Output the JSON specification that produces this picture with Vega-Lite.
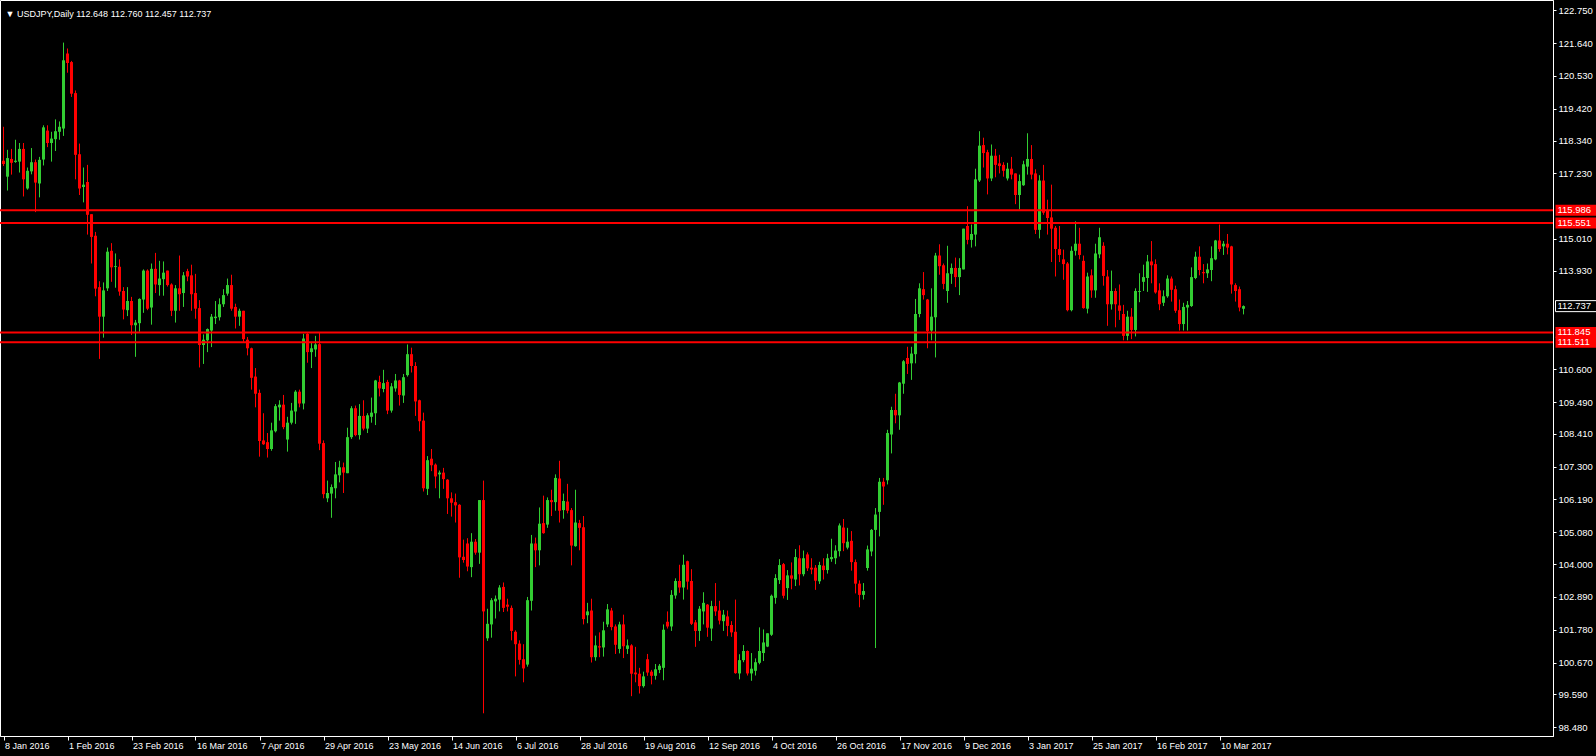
{
"$schema":"https://vega.github.io/schema/vega-lite/v6.json",
"width":1553,"height":736,
"autosize":{"type":"none"},
"padding":{"left":0,"top":0,"right":43,"bottom":20},
"background":"#000000",
"config":{"view":{"stroke":"#FFFFFF","strokeWidth":1},"font":"Liberation Sans","axis":{"labelOverlap":false}},
"resolve":{"axis":{"x":"independent","y":"independent"}},
"datasets":{
"ohlc":[
{"i":0,"o":117.66,"h":118.81,"l":117.48,"c":117.55},
{"i":1,"o":117.12,"h":118.03,"l":116.65,"c":117.75},
{"i":2,"o":117.72,"h":118.06,"l":117.19,"c":117.59},
{"i":3,"o":117.62,"h":118.37,"l":117.59,"c":117.66},
{"i":4,"o":117.63,"h":118.26,"l":117.26,"c":118.06},
{"i":5,"o":118.06,"h":118.26,"l":116.45,"c":117.03},
{"i":6,"o":116.72,"h":117.43,"l":116.68,"c":117.32},
{"i":7,"o":117.30,"h":118.09,"l":117.20,"c":117.61},
{"i":8,"o":117.61,"h":117.70,"l":115.92,"c":116.92},
{"i":9,"o":116.89,"h":117.79,"l":116.42,"c":117.69},
{"i":10,"o":117.70,"h":118.86,"l":117.50,"c":118.79},
{"i":11,"o":118.68,"h":118.86,"l":118.12,"c":118.26},
{"i":12,"o":118.26,"h":118.64,"l":117.63,"c":118.41},
{"i":13,"o":118.39,"h":119.06,"l":117.99,"c":118.66},
{"i":14,"o":118.64,"h":118.99,"l":118.37,"c":118.81},
{"i":15,"o":118.75,"h":121.66,"l":118.50,"c":121.06},
{"i":16,"o":121.29,"h":121.46,"l":120.64,"c":120.97},
{"i":17,"o":121.00,"h":121.04,"l":119.82,"c":119.93},
{"i":18,"o":119.95,"h":120.04,"l":117.03,"c":117.86},
{"i":19,"o":117.88,"h":118.24,"l":116.50,"c":116.72},
{"i":20,"o":116.77,"h":117.43,"l":116.25,"c":116.85},
{"i":21,"o":116.94,"h":117.52,"l":115.16,"c":115.83},
{"i":22,"o":115.85,"h":115.85,"l":114.18,"c":115.08},
{"i":23,"o":115.12,"h":115.25,"l":113.07,"c":113.33},
{"i":24,"o":113.38,"h":113.58,"l":110.95,"c":112.38},
{"i":25,"o":112.38,"h":113.54,"l":111.67,"c":113.27},
{"i":26,"o":113.34,"h":114.72,"l":113.25,"c":114.58},
{"i":27,"o":114.61,"h":114.87,"l":113.56,"c":114.05},
{"i":28,"o":114.06,"h":114.52,"l":113.36,"c":114.09},
{"i":29,"o":114.07,"h":114.32,"l":113.09,"c":113.23},
{"i":30,"o":113.25,"h":113.38,"l":112.29,"c":112.62},
{"i":31,"o":112.60,"h":113.38,"l":112.40,"c":112.91},
{"i":32,"o":112.91,"h":113.05,"l":111.76,"c":112.09},
{"i":33,"o":112.09,"h":112.27,"l":111.02,"c":112.18},
{"i":34,"o":112.16,"h":113.00,"l":111.87,"c":112.98},
{"i":35,"o":112.96,"h":113.98,"l":112.51,"c":113.94},
{"i":36,"o":113.94,"h":113.98,"l":112.60,"c":112.65},
{"i":37,"o":112.69,"h":114.18,"l":112.11,"c":114.00},
{"i":38,"o":114.00,"h":114.54,"l":113.18,"c":113.47},
{"i":39,"o":113.45,"h":114.27,"l":113.09,"c":113.67},
{"i":40,"o":113.65,"h":114.25,"l":113.09,"c":113.87},
{"i":41,"o":113.94,"h":113.94,"l":113.40,"c":113.45},
{"i":42,"o":113.47,"h":113.51,"l":112.40,"c":112.58},
{"i":43,"o":112.58,"h":113.45,"l":112.18,"c":113.34},
{"i":44,"o":113.34,"h":114.45,"l":112.58,"c":113.14},
{"i":45,"o":113.18,"h":113.89,"l":112.71,"c":113.78},
{"i":46,"o":113.92,"h":114.00,"l":113.58,"c":113.74},
{"i":47,"o":113.78,"h":114.14,"l":112.58,"c":113.14},
{"i":48,"o":113.18,"h":113.83,"l":112.31,"c":112.65},
{"i":49,"o":112.67,"h":112.94,"l":110.66,"c":111.42},
{"i":50,"o":111.42,"h":111.78,"l":110.78,"c":111.60},
{"i":51,"o":111.58,"h":111.98,"l":111.18,"c":111.96},
{"i":52,"o":111.91,"h":112.47,"l":111.35,"c":112.38},
{"i":53,"o":112.33,"h":112.91,"l":112.13,"c":112.38},
{"i":54,"o":112.36,"h":113.00,"l":112.25,"c":112.80},
{"i":55,"o":112.80,"h":113.31,"l":112.71,"c":113.11},
{"i":56,"o":113.16,"h":113.67,"l":113.09,"c":113.45},
{"i":57,"o":113.45,"h":113.80,"l":112.58,"c":112.65},
{"i":58,"o":112.71,"h":112.82,"l":111.98,"c":112.38},
{"i":59,"o":112.38,"h":112.65,"l":112.07,"c":112.58},
{"i":60,"o":112.58,"h":112.58,"l":111.53,"c":111.62},
{"i":61,"o":111.60,"h":111.69,"l":111.07,"c":111.31},
{"i":62,"o":111.31,"h":111.33,"l":109.91,"c":110.31},
{"i":63,"o":110.35,"h":110.64,"l":109.31,"c":109.77},
{"i":64,"o":109.80,"h":109.91,"l":107.64,"c":108.17},
{"i":65,"o":108.19,"h":109.11,"l":108.04,"c":108.06},
{"i":66,"o":108.13,"h":108.44,"l":107.61,"c":107.90},
{"i":67,"o":107.90,"h":108.79,"l":107.84,"c":108.53},
{"i":68,"o":108.50,"h":109.42,"l":108.46,"c":109.35},
{"i":69,"o":109.31,"h":109.55,"l":108.86,"c":109.40},
{"i":70,"o":109.40,"h":109.73,"l":108.57,"c":108.64},
{"i":71,"o":108.22,"h":108.99,"l":107.81,"c":108.79},
{"i":72,"o":108.79,"h":109.46,"l":108.73,"c":109.20},
{"i":73,"o":109.17,"h":109.89,"l":108.75,"c":109.84},
{"i":74,"o":109.84,"h":109.91,"l":109.31,"c":109.44},
{"i":75,"o":109.44,"h":111.80,"l":109.24,"c":111.64},
{"i":76,"o":111.80,"h":111.82,"l":110.82,"c":111.18},
{"i":77,"o":111.18,"h":111.53,"l":110.64,"c":111.31},
{"i":78,"o":111.27,"h":111.73,"l":111.02,"c":111.44},
{"i":79,"o":111.45,"h":111.84,"l":107.86,"c":108.08},
{"i":80,"o":108.10,"h":108.19,"l":106.23,"c":106.37},
{"i":81,"o":106.23,"h":106.83,"l":106.10,"c":106.41},
{"i":82,"o":106.39,"h":106.70,"l":105.57,"c":106.61},
{"i":83,"o":106.57,"h":107.46,"l":106.23,"c":107.04},
{"i":84,"o":107.01,"h":107.50,"l":106.77,"c":107.28},
{"i":85,"o":107.28,"h":107.44,"l":106.41,"c":107.10},
{"i":86,"o":107.08,"h":108.62,"l":107.08,"c":108.30},
{"i":87,"o":108.30,"h":109.35,"l":108.24,"c":109.28},
{"i":88,"o":109.28,"h":109.37,"l":108.33,"c":108.37},
{"i":89,"o":108.37,"h":109.42,"l":108.22,"c":109.02},
{"i":90,"o":109.02,"h":109.55,"l":108.53,"c":108.59},
{"i":91,"o":108.59,"h":109.11,"l":108.44,"c":109.04},
{"i":92,"o":108.99,"h":109.64,"l":108.79,"c":109.13},
{"i":93,"o":109.11,"h":110.24,"l":108.71,"c":110.22},
{"i":94,"o":110.17,"h":110.38,"l":109.68,"c":109.95},
{"i":95,"o":109.93,"h":110.58,"l":109.82,"c":110.13},
{"i":96,"o":110.17,"h":110.24,"l":109.08,"c":109.20},
{"i":97,"o":109.20,"h":110.13,"l":109.13,"c":110.02},
{"i":98,"o":109.95,"h":110.44,"l":109.84,"c":110.22},
{"i":99,"o":110.22,"h":110.24,"l":109.37,"c":109.73},
{"i":100,"o":109.71,"h":110.44,"l":109.46,"c":110.33},
{"i":101,"o":110.40,"h":111.44,"l":110.35,"c":111.11},
{"i":102,"o":111.11,"h":111.33,"l":110.49,"c":110.71},
{"i":103,"o":110.71,"h":110.84,"l":109.02,"c":109.51},
{"i":104,"o":109.55,"h":109.57,"l":108.50,"c":108.84},
{"i":105,"o":108.86,"h":109.13,"l":106.46,"c":106.57},
{"i":106,"o":106.55,"h":107.66,"l":106.34,"c":107.52},
{"i":107,"o":107.57,"h":107.90,"l":107.15,"c":107.35},
{"i":108,"o":107.37,"h":107.41,"l":106.57,"c":106.97},
{"i":109,"o":107.04,"h":107.17,"l":106.23,"c":107.10},
{"i":110,"o":107.10,"h":107.26,"l":106.55,"c":106.88},
{"i":111,"o":106.86,"h":106.88,"l":105.70,"c":106.23},
{"i":112,"o":106.23,"h":106.43,"l":105.61,"c":106.08},
{"i":113,"o":106.10,"h":106.39,"l":105.41,"c":105.99},
{"i":114,"o":106.01,"h":106.03,"l":103.54,"c":104.23},
{"i":115,"o":104.25,"h":104.83,"l":104.05,"c":104.14},
{"i":116,"o":104.70,"h":104.88,"l":103.76,"c":103.92},
{"i":117,"o":103.90,"h":105.05,"l":103.56,"c":104.76},
{"i":118,"o":104.76,"h":104.85,"l":104.32,"c":104.39},
{"i":119,"o":104.39,"h":106.17,"l":104.01,"c":106.17},
{"i":120,"o":106.17,"h":106.83,"l":98.95,"c":102.40},
{"i":121,"o":101.49,"h":102.49,"l":101.40,"c":101.98},
{"i":122,"o":101.96,"h":102.85,"l":101.51,"c":102.78},
{"i":123,"o":102.74,"h":102.94,"l":102.16,"c":102.83},
{"i":124,"o":102.80,"h":103.29,"l":102.40,"c":103.21},
{"i":125,"o":103.23,"h":103.38,"l":102.38,"c":102.52},
{"i":126,"o":102.63,"h":102.83,"l":102.40,"c":102.56},
{"i":127,"o":102.52,"h":102.60,"l":101.42,"c":101.74},
{"i":128,"o":101.71,"h":101.76,"l":100.20,"c":101.29},
{"i":129,"o":101.31,"h":101.42,"l":100.60,"c":100.76},
{"i":130,"o":100.78,"h":101.29,"l":100.00,"c":100.47},
{"i":131,"o":100.60,"h":102.89,"l":100.53,"c":102.78},
{"i":132,"o":102.76,"h":104.99,"l":102.43,"c":104.70},
{"i":133,"o":104.70,"h":104.90,"l":103.90,"c":104.47},
{"i":134,"o":104.47,"h":105.92,"l":103.96,"c":105.37},
{"i":135,"o":105.39,"h":106.32,"l":105.03,"c":105.05},
{"i":136,"o":105.34,"h":106.26,"l":105.23,"c":106.17},
{"i":137,"o":106.17,"h":106.52,"l":105.63,"c":106.10},
{"i":138,"o":106.10,"h":107.04,"l":105.81,"c":106.92},
{"i":139,"o":106.90,"h":107.50,"l":105.41,"c":105.81},
{"i":140,"o":105.83,"h":106.39,"l":105.54,"c":106.14},
{"i":141,"o":106.12,"h":106.72,"l":105.72,"c":105.81},
{"i":142,"o":105.83,"h":105.90,"l":103.96,"c":104.63},
{"i":143,"o":104.61,"h":106.52,"l":104.59,"c":105.41},
{"i":144,"o":105.39,"h":105.50,"l":104.47,"c":105.23},
{"i":145,"o":105.25,"h":105.63,"l":101.96,"c":102.14},
{"i":146,"o":102.27,"h":102.69,"l":102.00,"c":102.40},
{"i":147,"o":102.43,"h":102.83,"l":100.67,"c":100.85},
{"i":148,"o":100.85,"h":101.58,"l":100.73,"c":101.25},
{"i":149,"o":101.22,"h":101.69,"l":100.85,"c":101.18},
{"i":150,"o":101.18,"h":102.05,"l":100.87,"c":101.76},
{"i":151,"o":101.96,"h":102.65,"l":101.87,"c":102.47},
{"i":152,"o":102.43,"h":102.52,"l":101.76,"c":101.87},
{"i":153,"o":101.89,"h":101.96,"l":100.96,"c":101.27},
{"i":154,"o":101.13,"h":102.05,"l":100.98,"c":101.96},
{"i":155,"o":101.96,"h":102.29,"l":100.82,"c":101.22},
{"i":156,"o":101.13,"h":101.45,"l":100.96,"c":101.25},
{"i":157,"o":101.25,"h":101.29,"l":99.53,"c":100.29},
{"i":158,"o":100.33,"h":101.20,"l":100.00,"c":100.27},
{"i":159,"o":100.29,"h":100.49,"l":99.62,"c":99.87},
{"i":160,"o":99.87,"h":100.36,"l":99.82,"c":100.20},
{"i":161,"o":100.78,"h":100.96,"l":100.22,"c":100.33},
{"i":162,"o":100.36,"h":100.42,"l":99.93,"c":100.22},
{"i":163,"o":100.22,"h":100.62,"l":100.09,"c":100.44},
{"i":164,"o":100.42,"h":100.62,"l":100.31,"c":100.56},
{"i":165,"o":100.49,"h":101.96,"l":100.07,"c":101.78},
{"i":166,"o":102.05,"h":102.40,"l":101.82,"c":101.89},
{"i":167,"o":101.89,"h":103.12,"l":101.74,"c":102.96},
{"i":168,"o":102.94,"h":103.52,"l":102.83,"c":103.43},
{"i":169,"o":103.43,"h":103.98,"l":103.03,"c":103.21},
{"i":170,"o":103.21,"h":104.32,"l":102.80,"c":103.98},
{"i":171,"o":104.10,"h":104.12,"l":103.14,"c":103.41},
{"i":172,"o":103.43,"h":103.83,"l":101.94,"c":101.98},
{"i":173,"o":102.03,"h":102.11,"l":101.20,"c":101.74},
{"i":174,"o":101.74,"h":102.58,"l":101.40,"c":102.49},
{"i":175,"o":102.40,"h":103.05,"l":101.96,"c":102.69},
{"i":176,"o":102.63,"h":102.65,"l":101.54,"c":101.85},
{"i":177,"o":101.82,"h":102.76,"l":101.40,"c":102.58},
{"i":178,"o":102.58,"h":103.36,"l":102.25,"c":102.40},
{"i":179,"o":102.43,"h":102.76,"l":101.96,"c":102.09},
{"i":180,"o":102.07,"h":102.45,"l":101.74,"c":102.29},
{"i":181,"o":102.23,"h":102.43,"l":101.56,"c":101.91},
{"i":182,"o":101.94,"h":102.07,"l":101.54,"c":101.69},
{"i":183,"o":101.71,"h":102.80,"l":100.29,"c":100.31},
{"i":184,"o":100.30,"h":100.95,"l":100.10,"c":100.75},
{"i":185,"o":100.75,"h":101.26,"l":100.68,"c":101.06},
{"i":186,"o":101.06,"h":101.08,"l":100.23,"c":100.30},
{"i":187,"o":100.30,"h":100.99,"l":100.05,"c":100.46},
{"i":188,"o":100.39,"h":100.81,"l":100.23,"c":100.68},
{"i":189,"o":100.66,"h":101.86,"l":100.61,"c":101.06},
{"i":190,"o":100.99,"h":101.79,"l":100.72,"c":101.35},
{"i":191,"o":101.21,"h":101.66,"l":101.19,"c":101.66},
{"i":192,"o":101.61,"h":102.97,"l":101.57,"c":102.93},
{"i":193,"o":102.86,"h":103.66,"l":102.66,"c":103.53},
{"i":194,"o":103.46,"h":104.17,"l":103.33,"c":103.97},
{"i":195,"o":104.00,"h":104.04,"l":102.84,"c":102.93},
{"i":196,"o":103.19,"h":103.80,"l":102.79,"c":103.62},
{"i":197,"o":103.62,"h":104.06,"l":103.15,"c":103.51},
{"i":198,"o":103.48,"h":104.51,"l":103.26,"c":104.24},
{"i":199,"o":104.20,"h":104.64,"l":103.28,"c":103.66},
{"i":200,"o":103.66,"h":104.46,"l":103.59,"c":104.20},
{"i":201,"o":104.33,"h":104.40,"l":103.77,"c":103.86},
{"i":202,"o":103.88,"h":104.20,"l":103.66,"c":103.82},
{"i":203,"o":103.88,"h":103.97,"l":103.13,"c":103.44},
{"i":204,"o":103.42,"h":104.08,"l":103.33,"c":103.97},
{"i":205,"o":103.95,"h":104.20,"l":103.48,"c":103.80},
{"i":206,"o":103.80,"h":104.35,"l":103.68,"c":104.20},
{"i":207,"o":104.17,"h":104.86,"l":104.08,"c":104.24},
{"i":208,"o":104.20,"h":104.64,"l":104.00,"c":104.46},
{"i":209,"o":104.44,"h":105.38,"l":104.26,"c":105.31},
{"i":210,"o":105.24,"h":105.53,"l":104.44,"c":104.71},
{"i":211,"o":104.56,"h":105.23,"l":104.50,"c":104.76},
{"i":212,"o":104.79,"h":105.12,"l":103.78,"c":104.07},
{"i":213,"o":104.07,"h":104.16,"l":103.01,"c":103.34},
{"i":214,"o":103.34,"h":103.45,"l":102.54,"c":102.96},
{"i":215,"o":102.96,"h":103.36,"l":102.80,"c":103.09},
{"i":216,"o":103.87,"h":104.63,"l":103.78,"c":104.50},
{"i":217,"o":104.43,"h":105.19,"l":104.27,"c":105.16},
{"i":218,"o":105.16,"h":105.90,"l":101.16,"c":105.68},
{"i":219,"o":105.77,"h":106.92,"l":104.94,"c":106.79},
{"i":220,"o":106.79,"h":106.92,"l":106.01,"c":106.63},
{"i":221,"o":106.84,"h":108.55,"l":106.70,"c":108.44},
{"i":222,"o":108.39,"h":109.33,"l":107.75,"c":109.22},
{"i":223,"o":109.22,"h":109.77,"l":108.77,"c":109.04},
{"i":224,"o":109.04,"h":110.17,"l":108.55,"c":110.15},
{"i":225,"o":110.11,"h":110.91,"l":109.77,"c":110.87},
{"i":226,"o":110.98,"h":111.36,"l":110.44,"c":110.78},
{"i":227,"o":110.80,"h":111.36,"l":110.24,"c":111.13},
{"i":228,"o":111.11,"h":112.98,"l":110.80,"c":112.47},
{"i":229,"o":112.47,"h":113.51,"l":112.36,"c":113.34},
{"i":230,"o":113.31,"h":113.89,"l":112.96,"c":113.11},
{"i":231,"o":112.96,"h":112.98,"l":111.31,"c":111.89},
{"i":232,"o":111.91,"h":113.34,"l":111.58,"c":112.38},
{"i":233,"o":112.36,"h":114.54,"l":111.00,"c":114.45},
{"i":234,"o":114.45,"h":114.83,"l":113.80,"c":114.09},
{"i":235,"o":114.12,"h":114.18,"l":113.31,"c":113.49},
{"i":236,"o":113.25,"h":114.78,"l":112.85,"c":113.85},
{"i":237,"o":113.83,"h":114.18,"l":113.49,"c":114.03},
{"i":238,"o":114.03,"h":114.38,"l":113.38,"c":113.72},
{"i":239,"o":113.72,"h":114.36,"l":113.11,"c":114.03},
{"i":240,"o":113.98,"h":115.36,"l":113.98,"c":115.36},
{"i":241,"o":115.45,"h":116.12,"l":114.83,"c":114.98},
{"i":242,"o":114.98,"h":115.50,"l":114.72,"c":115.18},
{"i":243,"o":115.16,"h":117.39,"l":114.76,"c":117.03},
{"i":244,"o":116.99,"h":118.66,"l":116.94,"c":118.17},
{"i":245,"o":118.19,"h":118.44,"l":117.43,"c":117.92},
{"i":246,"o":117.95,"h":118.03,"l":116.52,"c":117.06},
{"i":247,"o":117.06,"h":118.21,"l":116.97,"c":117.83},
{"i":248,"o":117.83,"h":118.06,"l":117.10,"c":117.52},
{"i":249,"o":117.57,"h":117.86,"l":117.23,"c":117.48},
{"i":250,"o":117.52,"h":117.61,"l":117.12,"c":117.32},
{"i":251,"o":117.06,"h":117.59,"l":116.99,"c":117.39},
{"i":252,"o":117.39,"h":117.79,"l":117.03,"c":117.19},
{"i":253,"o":117.23,"h":117.23,"l":116.19,"c":116.50},
{"i":254,"o":116.50,"h":117.19,"l":116.01,"c":116.97},
{"i":255,"o":116.83,"h":117.66,"l":116.81,"c":117.54},
{"i":256,"o":117.46,"h":118.59,"l":117.19,"c":117.72},
{"i":257,"o":117.72,"h":118.19,"l":117.03,"c":117.19},
{"i":258,"o":117.23,"h":117.37,"l":115.18,"c":115.32},
{"i":259,"o":115.32,"h":117.17,"l":115.03,"c":116.99},
{"i":260,"o":116.99,"h":117.52,"l":115.83,"c":115.90},
{"i":261,"o":115.96,"h":116.34,"l":115.16,"c":115.72},
{"i":262,"o":115.74,"h":116.85,"l":114.23,"c":115.36},
{"i":263,"o":115.39,"h":115.45,"l":113.74,"c":114.67},
{"i":264,"o":114.67,"h":115.45,"l":114.23,"c":114.47},
{"i":265,"o":114.32,"h":114.65,"l":113.63,"c":114.16},
{"i":266,"o":114.18,"h":114.23,"l":112.56,"c":112.60},
{"i":267,"o":112.60,"h":114.76,"l":112.56,"c":114.61},
{"i":268,"o":114.61,"h":115.61,"l":114.45,"c":114.85},
{"i":269,"o":114.85,"h":115.39,"l":114.32,"c":114.47},
{"i":270,"o":114.27,"h":114.45,"l":112.65,"c":112.67},
{"i":271,"o":112.65,"h":113.87,"l":112.49,"c":113.74},
{"i":272,"o":113.78,"h":113.98,"l":113.02,"c":113.27},
{"i":273,"o":113.27,"h":114.85,"l":113.02,"c":114.52},
{"i":274,"o":114.49,"h":115.39,"l":114.36,"c":115.07},
{"i":275,"o":114.78,"h":114.90,"l":113.43,"c":113.76},
{"i":276,"o":113.74,"h":113.96,"l":112.07,"c":112.80},
{"i":277,"o":112.80,"h":113.94,"l":112.62,"c":113.25},
{"i":278,"o":113.25,"h":113.34,"l":112.02,"c":112.80},
{"i":279,"o":112.76,"h":113.47,"l":112.27,"c":112.58},
{"i":280,"o":112.47,"h":112.78,"l":111.58,"c":111.73},
{"i":281,"o":111.73,"h":112.58,"l":111.58,"c":112.38},
{"i":282,"o":112.38,"h":112.67,"l":111.62,"c":111.93},
{"i":283,"o":111.93,"h":113.34,"l":111.71,"c":113.25},
{"i":284,"o":113.22,"h":113.85,"l":112.87,"c":113.25},
{"i":285,"o":113.56,"h":114.14,"l":113.25,"c":113.72},
{"i":286,"o":113.69,"h":114.47,"l":113.22,"c":114.25},
{"i":287,"o":114.25,"h":114.94,"l":113.51,"c":114.12},
{"i":288,"o":114.16,"h":114.32,"l":113.16,"c":113.20},
{"i":289,"o":113.27,"h":113.51,"l":112.60,"c":112.80},
{"i":290,"o":112.85,"h":113.27,"l":112.74,"c":113.07},
{"i":291,"o":113.07,"h":113.78,"l":113.02,"c":113.67},
{"i":292,"o":113.67,"h":113.74,"l":112.89,"c":113.29},
{"i":293,"o":113.31,"h":113.43,"l":112.51,"c":112.58},
{"i":294,"o":112.60,"h":112.96,"l":111.91,"c":112.13},
{"i":295,"o":112.13,"h":112.85,"l":111.91,"c":112.71},
{"i":296,"o":112.69,"h":112.91,"l":111.91,"c":112.78},
{"i":297,"o":112.74,"h":114.05,"l":112.71,"c":113.72},
{"i":298,"o":113.69,"h":114.58,"l":113.65,"c":114.41},
{"i":299,"o":114.41,"h":114.76,"l":113.78,"c":113.96},
{"i":300,"o":113.89,"h":114.16,"l":113.51,"c":113.85},
{"i":301,"o":113.85,"h":114.18,"l":113.69,"c":113.98},
{"i":302,"o":113.96,"h":114.76,"l":113.58,"c":114.36},
{"i":303,"o":114.32,"h":114.98,"l":114.29,"c":114.96},
{"i":304,"o":114.96,"h":115.50,"l":114.58,"c":114.67},
{"i":305,"o":114.76,"h":114.94,"l":114.47,"c":114.85},
{"i":306,"o":114.85,"h":115.18,"l":114.49,"c":114.72},
{"i":307,"o":114.76,"h":114.78,"l":113.16,"c":113.47},
{"i":308,"o":113.45,"h":113.51,"l":112.89,"c":113.25},
{"i":309,"o":113.31,"h":113.40,"l":112.56,"c":112.69},
{"i":310,"o":112.648,"h":112.760,"l":112.457,"c":112.737}
],
"levels":[{"p":115.986},{"p":115.551},{"p":111.845},{"p":111.511}],
"cur":[{"p":112.737}],
"info":[{"t":"▼ USDJPY,Daily  112.648 112.760 112.457 112.737"}]
},
"layer":[
{"data":{"name":"ohlc"},
 "mark":{"type":"rule","strokeWidth":1},
 "encoding":{
  "x":{"field":"i","type":"quantitative","title":null,
       "scale":{"domain":[-0.875,387.375],"nice":false,"zero":false},
       "axis":{"orient":"bottom","title":null,"grid":false,
         "values":[0,16,32,48,64,80,96,112,128,144,160,176,192,208,224,240,256,272,288,304],
         "labelExpr":"['8 Jan 2016','1 Feb 2016','23 Feb 2016','16 Mar 2016','7 Apr 2016','29 Apr 2016','23 May 2016','14 Jun 2016','6 Jul 2016','28 Jul 2016','19 Aug 2016','12 Sep 2016','4 Oct 2016','26 Oct 2016','17 Nov 2016','9 Dec 2016','3 Jan 2017','25 Jan 2017','16 Feb 2017','10 Mar 2017'][round(datum.value/16)]",
         "labelAlign":"left","labelOffset":1,"labelPadding":1,"labelColor":"#FFFFFF","labelFont":"Liberation Sans","labelFontSize":9,
         "labelOverlap":false,"labelFlush":false,"tickColor":"#FFFFFF","tickSize":4,"domainColor":"#FFFFFF"}},
  "y":{"field":"l","type":"quantitative","title":null,
       "scale":{"domain":[98.351,122.933],"nice":false,"zero":false},
       "axis":{"orient":"right","title":null,"grid":false,
         "values":[122.75,121.64,120.53,119.42,118.34,117.23,115.01,113.93,110.6,109.49,108.41,107.3,106.19,105.08,104.0,102.89,101.78,100.67,99.59,98.48],
         "format":".3f","labelColor":"#FFFFFF","labelFont":"Liberation Sans","labelFontSize":9.5,"labelPadding":2,
         "labelOverlap":false,"labelFlush":false,"tickColor":"#FFFFFF","tickSize":3,"domainColor":"#FFFFFF"}},
  "y2":{"field":"h"},
  "color":{"condition":{"test":"datum.c >= datum.o","value":"#32CD32"},"value":"#FF0000"}}},
{"data":{"name":"ohlc"},
 "mark":{"type":"rule","strokeWidth":3,"strokeCap":"butt"},
 "encoding":{
  "x":{"field":"i","type":"quantitative","axis":null},
  "y":{"field":"o","type":"quantitative","axis":null},
  "y2":{"field":"c"},
  "color":{"condition":{"test":"datum.c >= datum.o","value":"#32CD32"},"value":"#FF0000"}}},
{"data":{"name":"levels"},
 "mark":{"type":"rule","strokeWidth":2,"color":"#FF0000"},
 "encoding":{"y":{"field":"p","type":"quantitative","axis":null}}},
{"data":{"name":"levels"},
 "mark":{"type":"bar","size":11,"color":"#FF0000"},
 "encoding":{"x":{"datum":388.0,"type":"quantitative","axis":null},"x2":{"datum":398.6},
  "y":{"field":"p","type":"quantitative","axis":null}}},
{"data":{"name":"levels"},
 "mark":{"type":"text","align":"left","baseline":"middle","color":"#FFFFFF","font":"Liberation Sans","fontSize":9.5},
 "encoding":{"x":{"datum":388.5,"type":"quantitative","axis":null},
  "y":{"field":"p","type":"quantitative","axis":null},
  "text":{"field":"p","type":"quantitative","format":".3f"}}},
{"data":{"name":"cur"},
 "mark":{"type":"bar","size":11,"color":"#000000","stroke":"#FFFFFF","strokeWidth":1},
 "encoding":{"x":{"datum":388.0,"type":"quantitative","axis":null},"x2":{"datum":398.6},
  "y":{"field":"p","type":"quantitative","axis":null}}},
{"data":{"name":"cur"},
 "mark":{"type":"text","align":"left","baseline":"middle","color":"#FFFFFF","font":"Liberation Sans","fontSize":9.5},
 "encoding":{"x":{"datum":388.5,"type":"quantitative","axis":null},
  "y":{"field":"p","type":"quantitative","axis":null},
  "text":{"field":"p","type":"quantitative","format":".3f"}}},
{"data":{"name":"info"},
 "mark":{"type":"text","align":"left","baseline":"middle","color":"#FFFFFF","font":"Liberation Sans","fontSize":9},
 "encoding":{"x":{"datum":0.5,"type":"quantitative","axis":null},
  "y":{"datum":122.63,"type":"quantitative","axis":null},
  "text":{"field":"t"}}}
]
}
